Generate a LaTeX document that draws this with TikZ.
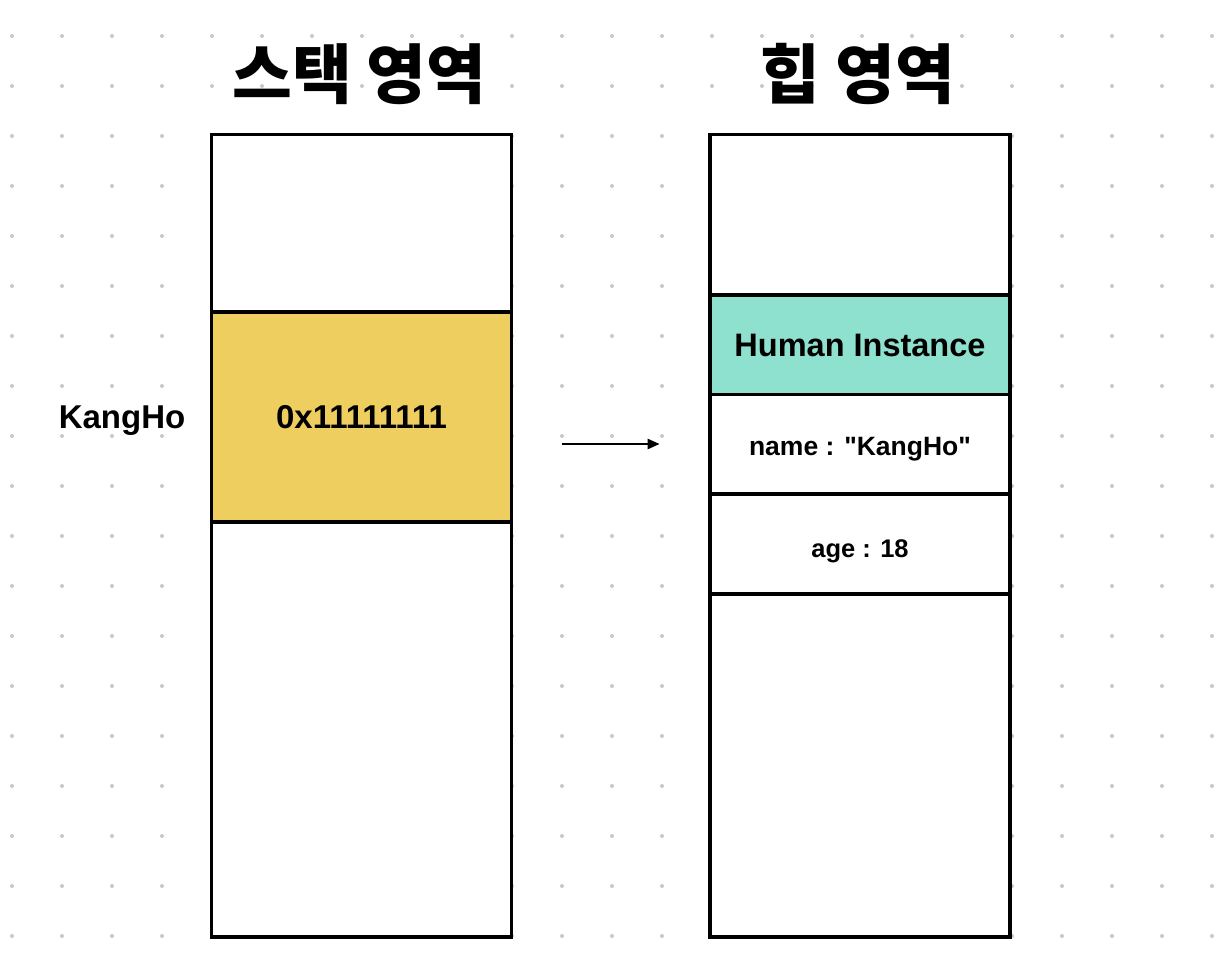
\documentclass[tikz,border=0pt]{standalone}
\usepackage{fontspec}
\setmainfont{Liberation Sans}
\newfontfamily\kr{Noto Sans CJK KR}
\usetikzlibrary{arrows.meta}
\definecolor{dotc}{HTML}{C8C8C8}
\definecolor{yellowc}{HTML}{EFCE60}
\definecolor{tealc}{HTML}{8EE0CF}
\newcommand{\dq}{\XeTeXglyph\XeTeXcharglyph"22\relax}
\tikzset{
  cell/.style={draw=black, line width=3.2pt, fill=white, minimum width=300pt,
    inner sep=0pt, outer sep=0pt, text depth=0pt},
  lbl/.style={font=\bfseries, inner sep=0pt, anchor=base},
  ttl/.style={font=\kr\bfseries\fontsize{65}{72}\selectfont, inner sep=0pt, anchor=base},
  ptr/.style={line width=1.3pt, -{Triangle[length=12pt,width=10.5pt]}}
}
\begin{document}
\begin{tikzpicture}[x=1pt,y=-1pt]
\useasboundingbox[fill=white] (0,0) rectangle (1228,978);
% dot grid
\foreach \i in {0,...,24}{
  \foreach \j in {0,...,18}{
    \fill[dotc] (12+50*\i,36+50*\j) circle (2);
  }
}
% titles
\node[ttl] (stackTitle) at (359.5,98.5) {스택 영역};
\node[ttl] (heapTitle) at (858,98.5) {힙 영역};
% stack area
\node[cell, minimum height=177.5pt] (sTop) at (361.5,223.25) {};
\node[cell, minimum height=210pt, fill=yellowc, text height=23.6pt,
  font=\bfseries\fontsize{33}{38}\selectfont] (sRef) at (361.5,417) {0x11111111};
\node[cell, minimum height=415pt] (sBot) at (361.5,729.5) {};
% heap area
\node[cell, minimum height=160.5pt] (hTop) at (860,214.75) {};
\node[cell, minimum height=99.5pt, fill=tealc, text height=23.3pt,
  font=\bfseries\fontsize{32.5}{38}\selectfont] (hInst) at (860,344.75) {Human Instance};
\node[cell, minimum height=99.5pt, text height=19pt,
  font=\bfseries\fontsize{26.5}{32}\selectfont] (hName) at (860,444.25) {\raisebox{-1.5pt}{name : \dq KangHo\dq}};
\node[cell, minimum height=100pt, text height=18.3pt,
  font=\bfseries\fontsize{25.5}{32}\selectfont] (hAge) at (860,544) {\raisebox{-4pt}{age : 18}};
\node[cell, minimum height=343pt] (hRest) at (860,765.5) {};
% variable label
\node[lbl, font=\bfseries\fontsize{33}{40}\selectfont] (varName) at (122,428) {KangHo};
% pointer arrow
\coordinate (arrS) at (561.7,444);
\coordinate (arrE) at (659.5,444);
\draw[ptr] (arrS) -- (arrE);
\end{tikzpicture}
\end{document}
